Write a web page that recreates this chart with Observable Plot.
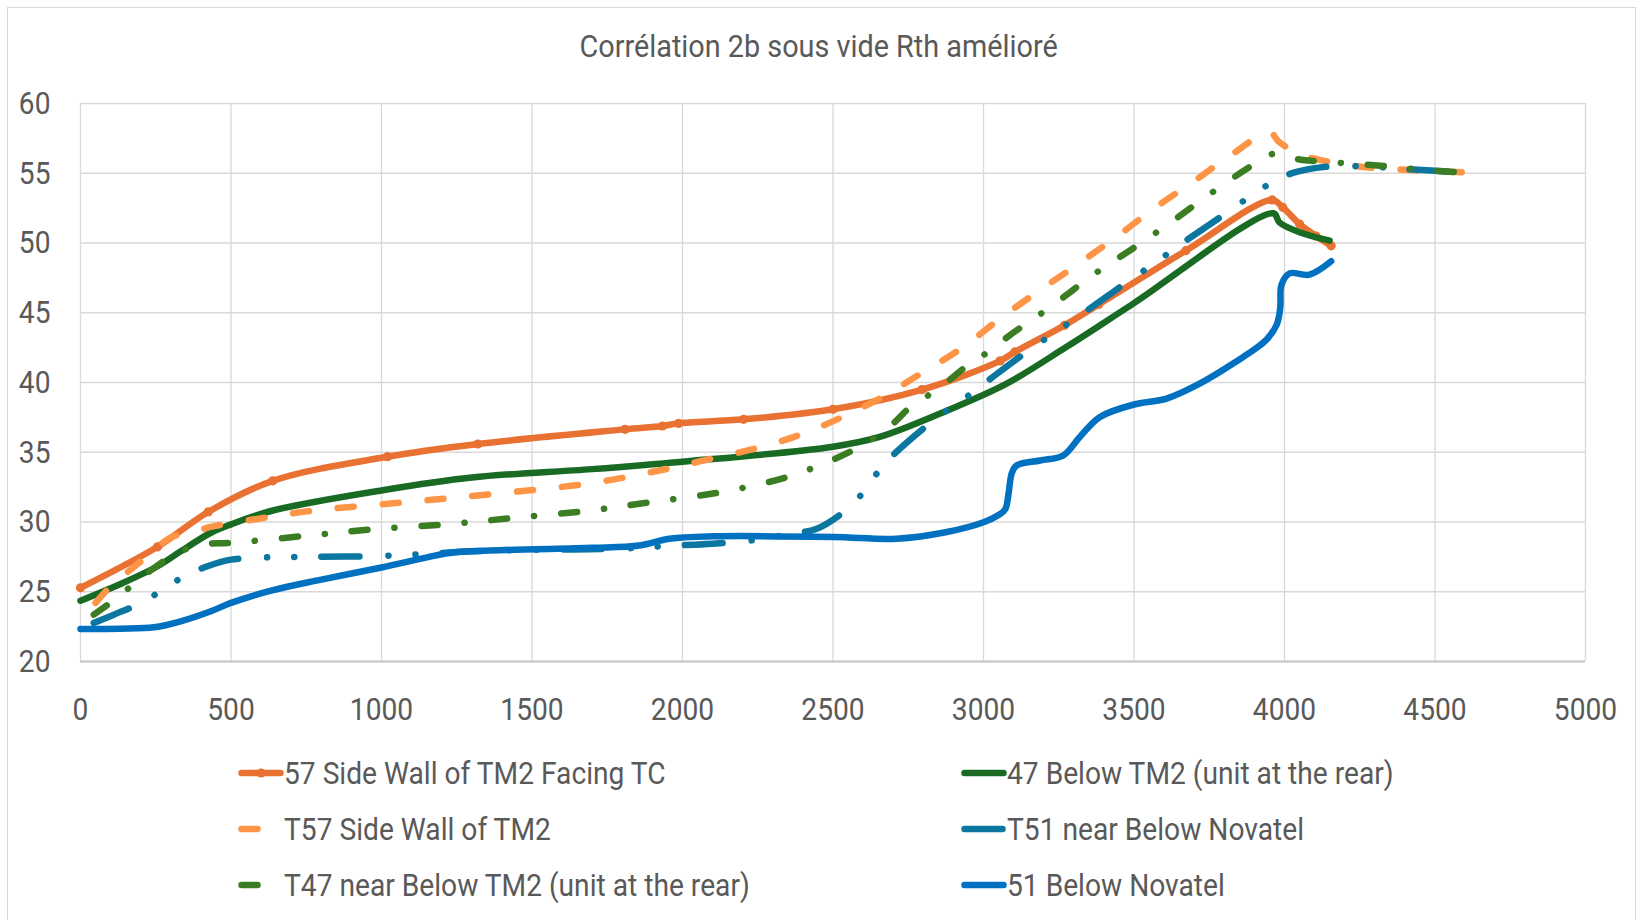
<!DOCTYPE html>
<html>
<head>
<meta charset="utf-8">
<script src="https://cdn.jsdelivr.net/npm/d3@7"></script>
<script src="https://cdn.jsdelivr.net/npm/@observablehq/plot@0.6"></script>
<style>
  html, body { margin: 0; padding: 0; background: #ffffff; }
  #frame { position: relative; width: 1638px; height: 920px; overflow: hidden;
           font-family: Roboto, "Liberation Sans", sans-serif; color: #595959; background: #fff; }
  #border { position: absolute; left: 7px; top: 7px; width: 1629px; height: 940px;
            border: 1.5px solid #D9D9D9; box-sizing: border-box; pointer-events: none; }
  #title { height: 86px; box-sizing: border-box; padding-top: 26px; line-height: 40px;
           font-size: 32px; text-align: center; white-space: nowrap; }
  #title span { display: inline-block; transform: scaleX(0.90); }
  #plot { height: 650px; }
  #plot svg { display: block; }
  #legend { position: relative; height: 184px; }
  .item { position: absolute; height: 56px; display: flex; align-items: center;
          font-size: 32px; white-space: nowrap; color: #595959; }
  .item svg { flex: none; }
  .item span { display: inline-block; transform: scaleX(0.88); transform-origin: left center; }
</style>
</head>
<body>
<div id="frame">
  <div id="border"></div>
  <div id="title"><span>Corrélation 2b sous vide Rth amélioré</span></div>
  <div id="plot"></div>
  <div id="legend"></div>
</div>
<script>
// ---- Data (time in x, temperature in y) ----
const xTicks = [0, 500, 1000, 1500, 2000, 2500, 3000, 3500, 4000, 4500, 5000];
const yTicks = [20, 25, 30, 35, 40, 45, 50, 55, 60];

const seriesNames = [
  "57 Side Wall of TM2 Facing TC",
  "47 Below TM2 (unit at the rear)",
  "T57 Side Wall of TM2",
  "T51 near Below Novatel",
  "T47 near Below TM2 (unit at the rear)",
  "51 Below Novatel"
];

const s57 = [[0,25.28],[256,28.22],[424,30.72],[639,32.95],[1020,34.68],[1320,35.59],[1809,36.64],
  [1933,36.88],[1987,37.07],[2203,37.36],[2500,38.08],[2796,39.49],[3055,41.55],[3105,42.2],
  [3269,44.1],[3383,45.6],[3672,49.45],[3959,53.09],[3994,52.56],[4050,51.36],[4105,50.5],[4155,49.8]];

const s47 = [[0,24.36],[133,25.56],[256,26.83],[333,27.9],[433,29.23],[500,29.83],[633,30.79],
  [1004,32.28],[1300,33.19],[1700,33.79],[2000,34.32],[2500,35.4],[2655,36.1],[2880,38.0],
  [3077,39.92],[3276,42.56],[3494,45.6],[3963,52.13],[3983,51.48],[4050,50.77],[4150,50.17]];

const sT57 = [[50,24.2],[100,25.4],[167,26.6],[222,27.55],[300,28.9],[356,29.2],[444,29.7],
  [611,30.3],[767,30.8],[1067,31.4],[1367,32.0],[1700,32.8],[1956,33.84],[2100,34.56],
  [2244,35.28],[2389,36.24],[2533,37.55],[2667,39.0],[2801,40.76],[2934,42.56],[3050,44.5],
  [3161,46.22],[3306,48.37],[3439,50.4],[3572,52.56],[3694,54.35],[3828,56.39],[3950,57.94],
  [3983,57.22],[4050,56.39],[4116,55.96],[4272,55.43],[4628,55.05]];

const sT51 = [[44,22.76],[111,23.36],[189,24.08],[267,25.04],[344,26.1],[422,26.83],[500,27.3],
  [572,27.43],[656,27.48],[744,27.5],[978,27.55],[1144,27.7],[1300,27.9],[1500,28.0],[1800,28.1],
  [1956,28.3],[2100,28.44],[2272,28.8],[2355,29.16],[2444,29.5],[2567,31.3],[2628,33.0],
  [2689,34.56],[2756,35.9],[2878,38.0],[2956,39.15],[3024,40.28],[3099,41.5],[3227,43.44],
  [3300,44.5],[3376,45.65],[3444,46.7],[3578,48.7],[3648,49.8],[3722,50.9],[3794,51.96],
  [3928,53.95],[4002,54.83],[4085,55.31],[4167,55.5],[4322,55.43],[4405,55.3],[4578,55.07],[4628,55.0]];

const sT47 = [[44,23.36],[111,24.4],[244,26.7],[322,27.8],[411,28.4],[500,28.5],[744,29.0],
  [967,29.47],[1211,29.83],[1444,30.3],[1700,30.84],[1900,31.44],[2133,32.16],[2367,33.36],
  [2589,35.4],[2700,37.07],[2757,38.25],[2818,39.1],[2890,40.23],[2961,41.48],[3017,42.2],
  [3088,43.4],[3215,45.3],[3383,48.0],[3489,49.5],[3622,51.48],[3761,53.64],[3897,55.62],
  [3970,56.43],[4039,56.03],[4120,55.84],[4272,55.62],[4494,55.19],[4628,55.0]];

const s51 = [[0,22.33],[133,22.35],[244,22.45],[333,22.88],[433,23.6],[500,24.2],[633,25.08],
  [800,25.87],[1004,26.76],[1144,27.43],[1233,27.8],[1411,27.99],[1700,28.15],[1856,28.32],
  [1956,28.8],[2100,28.97],[2500,28.92],[2711,28.8],[2878,29.28],[3000,29.98],[3050,30.5],
  [3072,30.9],[3083,32.0],[3094,33.5],[3110,34.05],[3188,34.41],[3265,34.77],[3320,36.1],
  [3387,37.53],[3503,38.44],[3608,38.85],[3718,39.92],[3829,41.36],[3939,43.04],[3975,44.2],
  [3986,45.4],[3990,47.0],[4017,47.82],[4083,47.73],[4155,48.69]];

// ---- Styles ----
const K = 0.88;           // horizontal condensing of text (narrow font look)
const W = 6.5;            // line width
const styles = [
  {data: s57,  color: "#E97132", dash: null, marker: true},
  {data: s47,  color: "#196B24", dash: null},
  {data: sT57, color: "#FD9446", dash: "16,29"},
  {data: sT51, color: "#0B76A0", dash: "38,29,0.1,27,0.1,27"},
  {data: sT47, color: "#3B7D23", dash: "16,27,0.1,27"},
  {data: s51,  color: "#0070C0", dash: null}
];

const lineMarks = [];
styles.forEach(s => {
  lineMarks.push(Plot.line(s.data, {
    x: d => d[0], y: d => d[1], stroke: s.color, strokeWidth: W,
    strokeLinecap: "round", strokeLinejoin: "round",
    strokeDasharray: s.dash || undefined, curve: "catmull-rom"
  }));
  if (s.marker) {
    lineMarks.push(Plot.dot(s.data, {x: d => d[0], y: d => d[1], r: 4.6, fill: s.color, stroke: "none"}));
  }
});

const chart = Plot.plot({
  width: 1638,
  height: 650,
  marginLeft: 80,
  marginRight: 53,
  marginTop: 17,
  marginBottom: 75,
  style: {fontFamily: "Roboto, 'Liberation Sans', sans-serif", fontSize: "32px", color: "#595959", background: "transparent", overflow: "visible"},
  x: {domain: [0, 5000]},
  y: {domain: [20, 60]},
  marks: [
    Plot.gridX({ticks: xTicks, stroke: "#D9D9D9", strokeOpacity: 1, strokeWidth: 1.3}),
    Plot.gridY({ticks: yTicks, stroke: "#D9D9D9", strokeOpacity: 1, strokeWidth: 1.3}),
    Plot.ruleY([20], {stroke: "#C4C4C4", strokeWidth: 1.8}),
    Plot.axisX({ticks: xTicks, tickSize: 0, tickPadding: 36, tickFormat: d => String(d), label: null, fill: "#595959"}),
    Plot.axisY({ticks: yTicks, tickSize: 0, tickPadding: 30, tickFormat: d => String(d), label: null, fill: "#595959"}),
    ...lineMarks
  ]
});

document.getElementById("plot").append(chart);

// condense the SVG tick labels horizontally around their anchors
chart.querySelectorAll("text").forEach(t => {
  const b = t.getBBox();
  const anchor = getComputedStyle(t).textAnchor;
  const ax = anchor === "end" ? b.x + b.width : anchor === "middle" ? b.x + b.width / 2 : b.x;
  const tr = t.getAttribute("transform") || "";
  t.setAttribute("transform", `${tr} translate(${ax},0) scale(${K},1) translate(${-ax},0)`);
});

// ---- Legend (two columns, row-wise order) ----
const legend = document.getElementById("legend");
const colLeft = [238, 961];
const rowTop = [9, 65, 121];
styles.forEach((s, i) => {
  const item = document.createElement("div");
  item.className = "item";
  item.style.left = colLeft[i % 2] + "px";
  item.style.top = rowTop[Math.floor(i / 2)] + "px";
  const ns = "http://www.w3.org/2000/svg";
  const sw = document.createElementNS(ns, "svg");
  sw.setAttribute("width", 46); sw.setAttribute("height", 20);
  const ln = document.createElementNS(ns, "line");
  ln.setAttribute("x1", 3.5); ln.setAttribute("x2", 42.5);
  ln.setAttribute("y1", 10); ln.setAttribute("y2", 10);
  ln.setAttribute("stroke", s.color); ln.setAttribute("stroke-width", W);
  ln.setAttribute("stroke-linecap", "round");
  if (s.dash) ln.setAttribute("stroke-dasharray", s.dash);
  sw.append(ln);
  if (s.marker) {
    const c = document.createElementNS(ns, "circle");
    c.setAttribute("cx", 23); c.setAttribute("cy", 10); c.setAttribute("r", 4.6);
    c.setAttribute("fill", s.color);
    sw.append(c);
  }
  const label = document.createElement("span");
  label.textContent = seriesNames[i];
  item.append(sw, label);
  legend.append(item);
});
</script>
</body>
</html>
